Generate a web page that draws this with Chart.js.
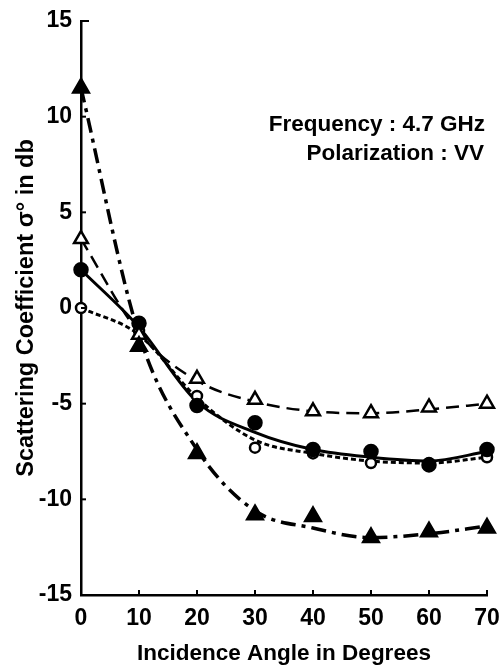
<!DOCTYPE html>
<html>
<head>
<meta charset="utf-8">
<script src="https://cdn.jsdelivr.net/npm/chart.js@4/dist/chart.umd.min.js"></script>
<style>
  html, body { margin: 0; padding: 0; background: #fff; }
  #wrap { width: 501px; height: 667px; position: relative; }
</style>
</head>
<body>
<div id="wrap"><canvas id="chart" width="501" height="667"></canvas></div>
<script>
// Scattering coefficient vs incidence angle, 4.7 GHz VV.
// Measured points are drawn as markers; the hand-drawn smooth curves are
// separate line datasets read off the figure.

const angles = [0, 10, 20, 30, 40, 50, 60, 70];
const yTicks = [-15, -10, -5, 0, 5, 10, 15];

// filled triangles, dash-dot curve
const filledTri = [11.5, -2.0, -7.6, -10.8, -10.9, -12.0, -11.7, -11.5];
const filledTriCurve = [11.5, -1.4, -7.4, -10.6, -11.5, -12.0, -11.8, -11.4];

// open triangles, dashed curve
const openTri = [3.6, -1.4, -3.7, -4.8, -5.4, -5.5, -5.2, -5.0];
const openTriCurve = [3.6, -1.3, -3.8, -4.9, -5.4, -5.5, -5.3, -5.0];

// filled circles, solid curve
const filledCirc = [2.0, -0.8, -5.1, -6.0, -7.4, -7.5, -8.2, -7.4];
const filledCircCurve = [2.0, -1.0, -4.9, -6.5, -7.4, -7.8, -8.0, -7.5];

// open circles, short-dash curve
const openCirc = [0.0, -1.2, -4.6, -7.3, -7.6, -8.1, -8.1, -7.8];
const openCircCurve = [0.0, -1.4, -4.7, -6.9, -7.6, -8.0, -8.1, -7.8];

const FONT = "'Liberation Sans', Arial, sans-serif";

const pts = (arr) => angles.map((a, i) => ({ x: a, y: arr[i] }));

function curve(arr, dash, width) {
  return {
    data: pts(arr),
    borderColor: '#000',
    borderWidth: width,
    borderDash: dash,
    pointRadius: 0,
    showLine: true,
    cubicInterpolationMode: 'monotone',
    clip: false,
    order: 2
  };
}

function markers(arr, style, radius, filled) {
  return {
    data: pts(arr),
    showLine: false,
    pointStyle: style,
    pointRadius: radius,
    pointHoverRadius: radius,
    pointBorderWidth: 2.5,
    pointBorderColor: '#000',
    pointBackgroundColor: filled ? '#000' : '#fff',
    clip: false,
    order: 1
  };
}

// short inward tick marks on both axes, placed through the scales
const insideTicks = {
  id: 'insideTicks',
  afterDraw(chart) {
    const { x, y } = chart.scales;
    const { left, bottom } = chart.chartArea;
    const ctx = chart.ctx;
    ctx.save();
    ctx.strokeStyle = '#000';
    ctx.lineWidth = 2;
    yTicks.forEach((v) => {
      if (v === -15) return;
      const py = y.getPixelForValue(v);
      ctx.beginPath();
      ctx.moveTo(left, py);
      ctx.lineTo(left + (v === 15 ? 8 : 5), py);
      ctx.stroke();
    });
    angles.forEach((a) => {
      if (a === 0) return;
      const px = x.getPixelForValue(a);
      ctx.beginPath();
      ctx.moveTo(px, bottom);
      ctx.lineTo(px, bottom - 5);
      ctx.stroke();
    });
    ctx.restore();
  }
};

// the two-line note in the upper right
const note = {
  id: 'note',
  afterDraw(chart) {
    const ctx = chart.ctx;
    ctx.save();
    ctx.fillStyle = '#000';
    ctx.font = 'bold 22.5px ' + FONT;
    ctx.textAlign = 'right';
    ctx.textBaseline = 'alphabetic';
    ctx.fillText('Frequency : 4.7 GHz', 485, 131);
    ctx.fillText('Polarization : VV', 484, 160);
    ctx.restore();
  }
};

new Chart(document.getElementById('chart'), {
  type: 'scatter',
  data: {
    datasets: [
      curve(filledTriCurve, [15, 6, 4, 6], 3.5),
      curve(openTriCurve, [13, 7], 2.5),
      curve(filledCircCurve, [], 3),
      curve(openCircCurve, [5, 3], 3),
      markers(filledTri, 'triangle', 9, true),
      markers(openTri, 'triangle', 8, false),
      markers(filledCirc, 'circle', 6.5, true),
      markers(openCirc, 'circle', 5, false)
    ]
  },
  options: {
    responsive: false,
    animation: false,
    events: [],
    layout: { padding: { top: 21, right: 14, left: 0, bottom: 0 } },
    plugins: { legend: { display: false }, tooltip: { enabled: false } },
    scales: {
      x: {
        type: 'linear',
        min: 0,
        max: 70,
        afterFit: (s) => {
          s.height = 72;
          s.paddingLeft = 0;
          s.paddingRight = 0;
        },
        afterBuildTicks: (s) => { s.ticks = angles.map((v) => ({ value: v })); },
        grid: { drawOnChartArea: false, drawTicks: false },
        border: { color: '#000', width: 2.5 },
        ticks: {
          color: '#000',
          padding: 10,
          font: { family: FONT, size: 23, weight: 'bold' }
        },
        title: {
          display: true,
          text: 'Incidence Angle in Degrees',
          color: '#000',
          padding: { bottom: 0 },
          font: { family: FONT, size: 22.5, weight: 'bold' }
        }
      },
      y: {
        type: 'linear',
        min: -15,
        max: 15,
        afterFit: (s) => {
          s.width = 81;
          s.paddingTop = 0;
          s.paddingBottom = 0;
        },
        afterBuildTicks: (s) => { s.ticks = yTicks.map((v) => ({ value: v })); },
        grid: { drawOnChartArea: false, drawTicks: false },
        border: { color: '#000', width: 2.5 },
        ticks: {
          color: '#000',
          padding: 9,
          font: { family: FONT, size: 23, weight: 'bold' }
        },
        title: {
          display: true,
          text: 'Scattering Coefficient σ° in db',
          color: '#000',
          padding: { top: 12 },
          font: { family: FONT, size: 23.5, weight: 'bold' }
        }
      }
    }
  },
  plugins: [insideTicks, note]
});
</script>
</body>
</html>
